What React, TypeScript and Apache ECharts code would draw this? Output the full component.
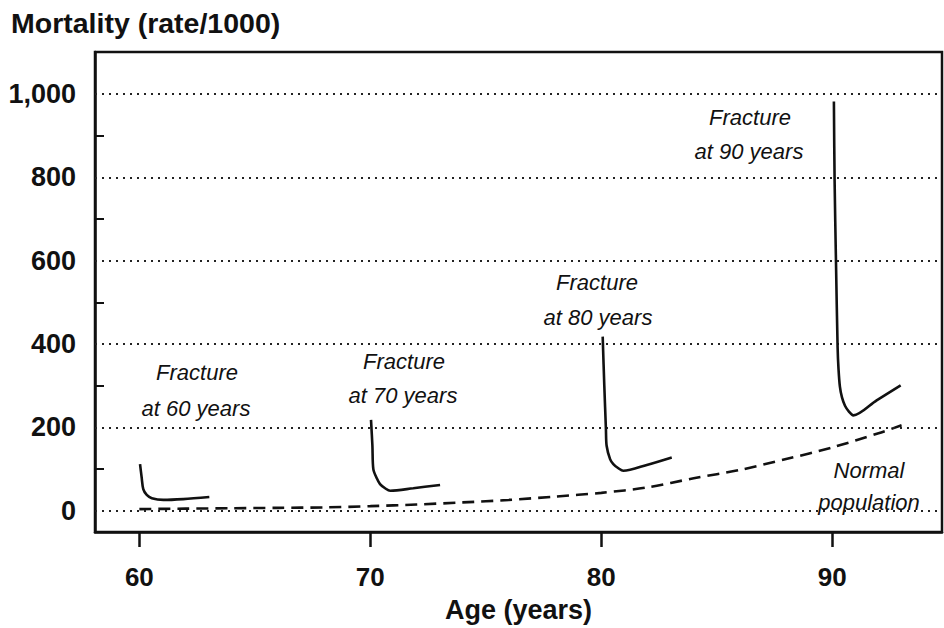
import React, { useEffect, useRef } from "react";
import * as echarts from "echarts";

const yLabelValues = [0, 200, 400, 600, 800, 1000];
const yMinorTicks = [100, 300, 500, 700, 900];
const xLabelValues = [60, 70, 80, 90];
const gridValues = [0, 200, 400, 600, 800, 1000];

const normalAges = [60, 62, 64, 66, 68, 70, 72, 74, 76, 78, 80, 82, 84, 86, 88, 90, 92, 93];
const normalRates = [4, 5, 6, 7, 8, 11, 15, 20, 26, 34, 43, 56, 78, 98, 124, 152, 186, 205];

const f60Ages = [60.03, 60.1, 60.17, 60.32, 60.54, 61.04, 61.9, 63.03];
const f60Rates = [112, 80, 52, 38, 30, 26, 28, 33];

const f70Ages = [70.03, 70.09, 70.13, 70.28, 70.42, 70.64, 70.86, 71.86, 73.02];
const f70Rates = [218, 156, 100, 78, 64, 54, 48, 54, 62];

const f80Ages = [80.06, 80.13, 80.2, 80.23, 80.38, 80.52, 80.74, 80.95, 81.97, 83.05];
const f80Rates = [418, 300, 196, 156, 124, 112, 102, 96, 110, 128];

const f90Ages = [90.07, 90.1, 90.16, 90.23, 90.27, 90.33, 90.42, 90.55, 90.72, 90.91, 91.92, 92.96];
const f90Rates = [982, 793, 598, 393, 340, 298, 272, 252, 238, 229, 265, 301];

const annotations = [
  { text: "Fracture", x: 197, y: 372 },
  { text: "at 60 years", x: 196, y: 408 },
  { text: "Fracture", x: 404, y: 361 },
  { text: "at 70 years", x: 403, y: 395 },
  { text: "Fracture", x: 597, y: 282 },
  { text: "at 80 years", x: 598, y: 317 },
  { text: "Fracture", x: 750, y: 117 },
  { text: "at 90 years", x: 749, y: 151 },
  { text: "Normal", x: 869, y: 470 },
  { text: "population", x: 869, y: 502 },
];

const zip = (a: number[], b: number[]) => a.map((v, i) => [v, b[i]]);

const FONT = "'Liberation Sans', Arial, Helvetica, sans-serif";
const INK = "#111";

export default function App() {
  const ref = useRef<HTMLDivElement>(null);
  useEffect(() => {
    if (!ref.current) return;
    const chart = echarts.init(ref.current, null, { renderer: "svg" });
    const fractureSeries = [
      zip(f60Ages, f60Rates),
      zip(f70Ages, f70Rates),
      zip(f80Ages, f80Rates),
      zip(f90Ages, f90Rates),
    ].map((d) => ({
      type: "line",
      data: d,
      showSymbol: false,
      smooth: 0.3,
      lineStyle: { color: INK, width: 2.6 },
      z: 5,
    }));
    chart.setOption({
      animation: false,
      backgroundColor: "#fff",
      grid: {
        left: 95,
        right: 2,
        top: 52,
        bottom: 95,
        show: true,
        borderColor: INK,
        borderWidth: 2.5,
      },
      xAxis: {
        type: "value",
        min: 58.08,
        max: 94.75,
        name: "Age (years)",
        nameLocation: "middle",
        nameGap: 64,
        nameTextStyle: { fontFamily: FONT, fontWeight: "bold", fontSize: 27, color: INK },
        axisLine: { show: true, onZero: false, lineStyle: { color: INK, width: 2.5 } },
        axisTick: {
          show: true,
          customValues: xLabelValues,
          length: 15,
          inside: false,
          lineStyle: { color: INK, width: 2.5 },
        },
        axisLabel: {
          customValues: xLabelValues,
          margin: 32,
          fontFamily: FONT,
          fontWeight: "bold",
          fontSize: 26,
          color: INK,
        },
        splitLine: { show: false },
      },
      yAxis: {
        type: "value",
        min: -51,
        max: 1101,
        axisLine: { show: true, onZero: false, lineStyle: { color: INK, width: 2.5 } },
        axisTick: {
          show: true,
          customValues: yMinorTicks,
          inside: true,
          length: 9,
          lineStyle: { color: INK, width: 2 },
        },
        axisLabel: {
          customValues: yLabelValues,
          margin: 19,
          fontFamily: FONT,
          fontWeight: "bold",
          fontSize: 27,
          color: INK,
          formatter: (v: number) => v.toLocaleString("en-US"),
        },
        splitLine: { show: false },
      },
      graphic: [
        {
          type: "text",
          left: 11,
          top: 8,
          style: {
            text: "Mortality (rate/1000)",
            font: `bold 28.5px ${FONT}`,
            fill: INK,
          },
        },
        ...annotations.map((a) => ({
          type: "text",
          x: a.x,
          y: a.y,
          z: 10,
          style: {
            text: a.text,
            font: `italic 22px ${FONT}`,
            fill: INK,
            align: "center",
            verticalAlign: "middle",
          },
        })),
      ],
      series: [
        {
          type: "line",
          data: zip(normalAges, normalRates),
          showSymbol: false,
          smooth: 0.3,
          lineStyle: { color: INK, width: 2.6, type: [12, 7] },
          z: 4,
          markLine: {
            silent: true,
            symbol: "none",
            label: { show: false },
            lineStyle: { color: "#222", width: 2, type: [2, 5] },
            data: gridValues.map((v) => ({ yAxis: v })),
          },
        },
        ...fractureSeries,
      ],
    });
    return () => chart.dispose();
  }, []);
  return (
    <div
      ref={ref}
      style={{ position: "fixed", left: 0, top: 0, width: 944, height: 628, background: "#fff" }}
    />
  );
}
